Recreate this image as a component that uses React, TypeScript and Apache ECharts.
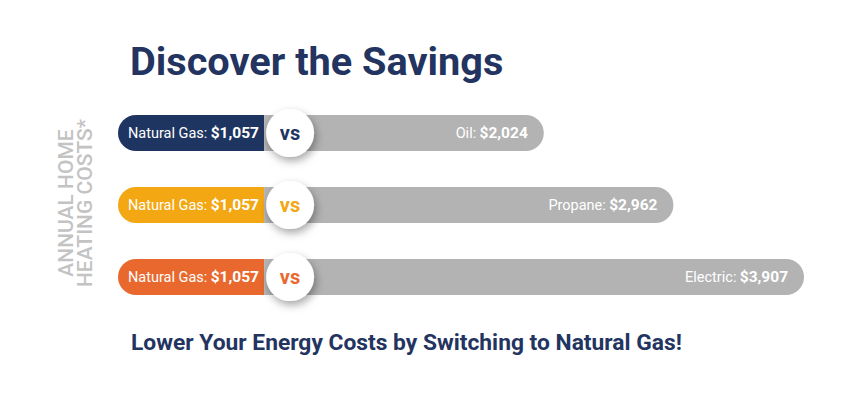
import React, { useEffect, useRef } from "react";
import * as echarts from "echarts";

const categories = ["Oil", "Propane", "Electric"];
const naturalGasCost = [1057, 1057, 1057];
const alternativeCost = [2024, 2962, 3907];
const gasColors = ["#1f3561", "#f3a712", "#e8682e"];
const titleText = "Discover the Savings";
const footerText = "Lower Your Energy Costs by Switching to Natural Gas!";
const axisTitle = "ANNUAL HOME\nHEATING COSTS*";

const fmt = (v: number) => "$" + v.toLocaleString("en-US");

export default function App() {
  const ref = useRef<HTMLDivElement>(null);
  useEffect(() => {
    if (!ref.current) return;
    const chart = echarts.init(ref.current, undefined, { renderer: "svg" });
    const font = "Roboto, 'Noto Sans', sans-serif";
    chart.setOption({
      animation: false,
      backgroundColor: "#ffffff",
      title: [
        {
          text: titleText,
          left: 130,
          top: 41,
          padding: 0,
          textStyle: { fontFamily: font, fontSize: 39.7, fontWeight: "bold", color: "#22345f" },
        },
        {
          text: footerText,
          left: 131,
          top: 331,
          padding: 0,
          textStyle: { fontFamily: font, fontSize: 22.8, fontWeight: "bold", color: "#22345f" },
        },
      ],
      graphic: [
        {
          type: "text",
          x: 75,
          y: 203,
          rotation: Math.PI / 2,
          style: {
            text: axisTitle,
            fontFamily: font,
            fontSize: 21,
            fontWeight: 500,
            lineHeight: 19,
            fill: "#c3c3c3",
            align: "center",
            verticalAlign: "middle",
          },
        },
      ],
      grid: { left: 118, right: 53, top: 97, bottom: 83 },
      xAxis: { type: "value", min: 0, max: 5000, show: false },
      yAxis: { type: "category", data: categories, inverse: true, show: false },
      series: [
        {
          name: "Natural Gas",
          type: "bar",
          stack: "cost",
          barWidth: 36,
          data: naturalGasCost.map((v, i) => ({
            value: v,
            itemStyle: { color: gasColors[i], borderRadius: [18, 0, 0, 18] },
          })),
          label: {
            show: true,
            position: "insideLeft",
            distance: 10,
            formatter: (p: any) => `{n|Natural Gas:} {v|${fmt(p.value)}}`,
            rich: {
              n: { fontFamily: font, fontSize: 14.5, color: "#ffffff" },
              v: { fontFamily: font, fontSize: 15.5, fontWeight: "bold", color: "#ffffff" },
            },
          },
        },
        {
          name: "Alternative",
          type: "bar",
          stack: "cost",
          barWidth: 36,
          itemStyle: { color: "#b3b3b3", borderRadius: [0, 18, 18, 0] },
          data: alternativeCost,
          label: {
            show: true,
            position: "insideRight",
            distance: 16,
            formatter: (p: any) => `{n|${categories[p.dataIndex]}:} {v|${fmt(p.value)}}`,
            rich: {
              n: { fontFamily: font, fontSize: 14.5, color: "#ffffff" },
              v: { fontFamily: font, fontSize: 15.5, fontWeight: "bold", color: "#ffffff" },
            },
          },
        },
        {
          name: "vs",
          type: "scatter",
          z: 5,
          symbol: "circle",
          symbolSize: 48,
          symbolOffset: [26, 0],
          data: naturalGasCost.map((v, i) => ({
            value: [v, i],
            label: { color: gasColors[i] },
          })),
          itemStyle: {
            color: "#ffffff",
            opacity: 1,
            shadowBlur: 8,
            shadowColor: "rgba(0,0,0,0.35)",
            shadowOffsetX: 2,
            shadowOffsetY: 4,
          },
          label: {
            show: true,
            position: "inside",
            formatter: "vs",
            fontFamily: font,
            fontSize: 20,
            fontWeight: "bold",
          },
        },
      ],
    });
    return () => chart.dispose();
  }, []);
  return (
    <div
      ref={ref}
      style={{ position: "fixed", left: 0, top: 0, width: 862, height: 396 }}
    />
  );
}
